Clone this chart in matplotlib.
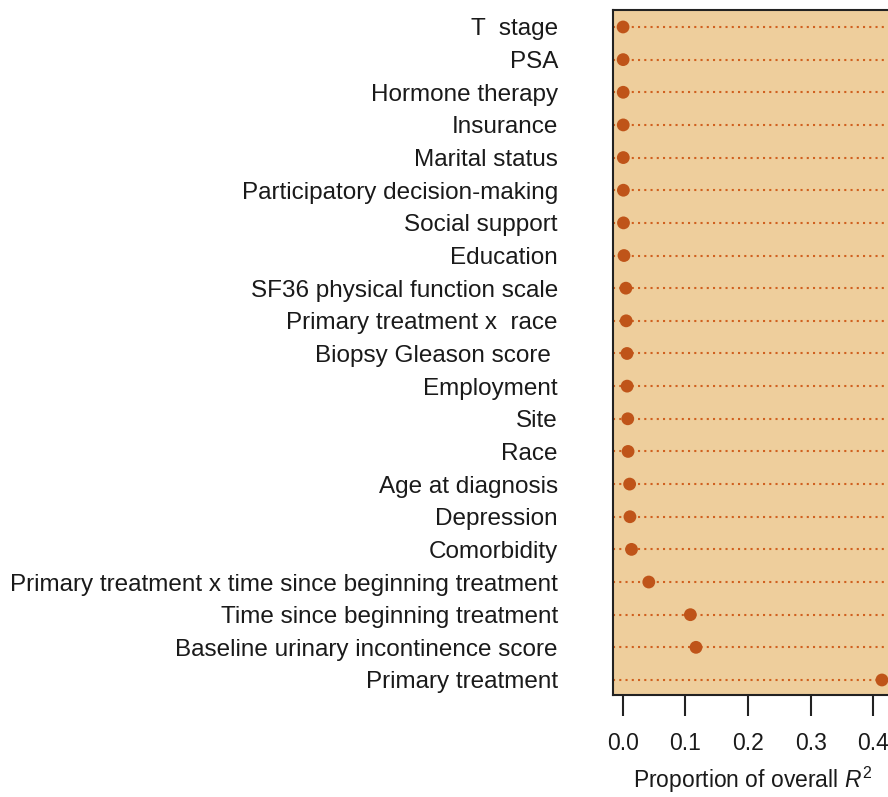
import matplotlib
matplotlib.use("Agg")
import matplotlib.pyplot as plt

plt.rcParams['font.family'] = ['Liberation Sans', 'DejaVu Sans']
plt.rcParams['mathtext.fontset'] = 'custom'
plt.rcParams['mathtext.rm'] = 'Liberation Sans'
plt.rcParams['mathtext.it'] = 'Liberation Sans:italic'

labels = [
    "T  stage", "PSA", "Hormone therapy", "Insurance", "Marital status",
    "Participatory decision-making", "Social support", "Education",
    "SF36 physical function scale", "Primary treatment x  race",
    "Biopsy Gleason score ", "Employment", "Site", "Race", "Age at diagnosis",
    "Depression", "Comorbidity",
    "Primary treatment x time since beginning treatment",
    "Time since beginning treatment", "Baseline urinary incontinence score",
    "Primary treatment",
]
values = [0.0005, 0.0006, 0.0007, 0.0008, 0.0009, 0.0010, 0.0012, 0.0020,
          0.0050, 0.0055, 0.0068, 0.0070, 0.0080, 0.0085, 0.0110, 0.0115,
          0.0140, 0.0416, 0.108, 0.117, 0.414]
xticks = [0.0, 0.1, 0.2, 0.3, 0.4]

fig = plt.figure(figsize=(8.88, 7.97), dpi=100)
ax = fig.add_axes([612.7/888, 102/797, 279.6/888, 685/797])
ax.set_facecolor('#EECE9C')

n = len(labels)
ys = list(range(n, 0, -1))
for y in ys:
    ax.axhline(y, color='#D0601F', lw=1.5, ls=(0, (1, 2.0)), zorder=1)
ax.scatter(values, ys, s=85, color='#BF5419', zorder=3, edgecolor='none')

lo, hi = min(values), max(values)
ext = 0.04 * (hi - lo)
ax.set_xlim(lo - ext, hi + ext)
ax.set_ylim(0.54, n + 0.52)

ax.set_yticks(ys)
ax.set_yticklabels(labels, fontsize=17.5, color='#1a1a1a')
ax.tick_params(axis='y', length=0, pad=39.4)
ax.set_xticks(xticks)
ax.set_xticklabels([f"{t:.1f}" for t in xticks], fontsize=16.5, color='#1a1a1a')
ax.tick_params(axis='x', length=15, width=1.5, pad=12, color='#222222')
ax.set_xlabel(r"Proportion of overall $\mathit{R}^{2}$", fontsize=16.5,
              color='#1a1a1a', labelpad=7)
for s in ax.spines.values():
    s.set_linewidth(1.5)
    s.set_color('#222222')

fig.savefig("out.png", dpi=100)
